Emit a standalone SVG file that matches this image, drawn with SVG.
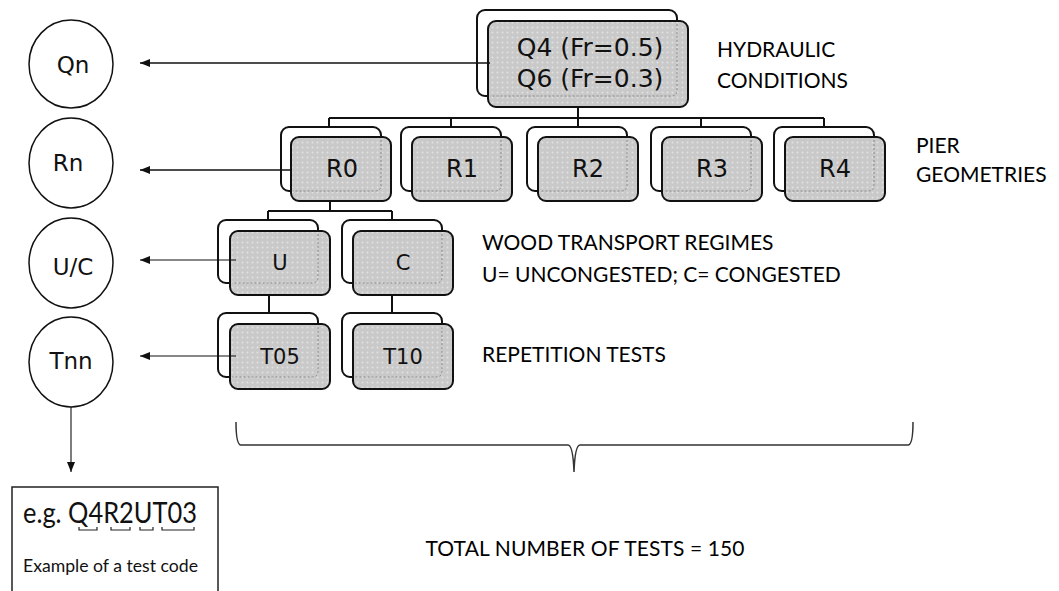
<svg xmlns="http://www.w3.org/2000/svg" width="1059" height="591" viewBox="0 0 1059 591">
<style>
.back{fill:#fff;stroke:#111;stroke-width:2}
.front{fill:url(#dots);stroke:#111;stroke-width:2}
.ghost{fill:none;stroke:#8a8a8a;stroke-width:1;stroke-dasharray:2 2}
.btxt{font-family:"DejaVu Sans",sans-serif;fill:#111;text-anchor:middle}
.lbl{font-family:Lato,"Open Sans",sans-serif;font-size:21px;fill:#000}
.circ{fill:#fff;stroke:#111;stroke-width:1.5}
.ctxt{font-family:"DejaVu Sans",sans-serif;font-size:23px;fill:#111;text-anchor:middle}
.tree{fill:none;stroke:#111;stroke-width:2}
.arr{fill:none;stroke:#111;marker-end:url(#ah)}
</style>
<defs>
<pattern id="dots" width="5" height="5" patternUnits="userSpaceOnUse">
<rect width="5" height="5" fill="#c9c9c9"/>
<circle cx="2.5" cy="2.5" r="1" fill="#e2e2e2"/>
</pattern>
<marker id="ah" markerWidth="10" markerHeight="8" refX="10" refY="4" orient="auto" markerUnits="userSpaceOnUse">
<path d="M0,0 L10,4 L0,8 Z" fill="#111"/>
</marker>
</defs>

<g id="node-Q">
<rect class="back" x="477" y="10" width="200" height="86" rx="8"/>
<rect class="front" x="488" y="21" width="200" height="86" rx="8"/>
<path class="ghost" d="M677,24 V90 Q677,96 671,96 H490"/>
<text class="btxt" x="590" y="56" font-size="25">Q4 (Fr=0.5)</text>
<text class="btxt" x="590" y="87" font-size="25">Q6 (Fr=0.3)</text>
</g>
<g id="label-hydraulic">
<text class="lbl" x="717" y="57">HYDRAULIC</text>
<text class="lbl" x="717" y="88">CONDITIONS</text>
</g>

<g id="node-R0">
<rect class="back" x="281" y="127" width="100" height="64" rx="8"/>
<rect class="front" x="291" y="137" width="100" height="64" rx="8"/>
<path class="ghost" d="M381,140 V185 Q381,191 375,191 H293"/>
<text class="btxt" x="342" y="177" font-size="24">R0</text>
</g>
<g id="node-R1">
<rect class="back" x="401" y="127" width="100" height="64" rx="8"/>
<rect class="front" x="412" y="137" width="100" height="64" rx="8"/>
<path class="ghost" d="M501,140 V185 Q501,191 495,191 H414"/>
<text class="btxt" x="462" y="177" font-size="24">R1</text>
</g>
<g id="node-R2">
<rect class="back" x="527" y="127" width="100" height="64" rx="8"/>
<rect class="front" x="538" y="137" width="100" height="64" rx="8"/>
<path class="ghost" d="M627,140 V185 Q627,191 621,191 H540"/>
<text class="btxt" x="588" y="177" font-size="24">R2</text>
</g>
<g id="node-R3">
<rect class="back" x="651" y="127" width="100" height="64" rx="8"/>
<rect class="front" x="662" y="137" width="100" height="64" rx="8"/>
<path class="ghost" d="M751,140 V185 Q751,191 745,191 H664"/>
<text class="btxt" x="712" y="177" font-size="24">R3</text>
</g>
<g id="node-R4">
<rect class="back" x="774" y="127" width="100" height="64" rx="8"/>
<rect class="front" x="785" y="137" width="100" height="64" rx="8"/>
<path class="ghost" d="M874,140 V185 Q874,191 868,191 H787"/>
<text class="btxt" x="835" y="177" font-size="24">R4</text>
</g>
<g id="label-pier">
<text class="lbl" x="916" y="153">PIER</text>
<text class="lbl" x="916" y="182">GEOMETRIES</text>
</g>

<g id="node-U">
<rect class="back" x="218" y="220" width="100" height="63" rx="8"/>
<rect class="front" x="230" y="231" width="100" height="64" rx="8"/>
<path class="ghost" d="M318,234 V277 Q318,283 312,283 H232"/>
<text class="btxt" x="280" y="270" font-size="21">U</text>
</g>
<g id="node-C">
<rect class="back" x="342" y="220" width="100" height="63" rx="8"/>
<rect class="front" x="353" y="231" width="100" height="64" rx="8"/>
<path class="ghost" d="M442,234 V277 Q442,283 436,283 H355"/>
<text class="btxt" x="403" y="270" font-size="21">C</text>
</g>
<g id="label-wood">
<text class="lbl" x="482" y="250">WOOD TRANSPORT REGIMES</text>
<text class="lbl" x="482" y="282">U= UNCONGESTED; C= CONGESTED</text>
</g>

<g id="node-T05">
<rect class="back" x="218" y="313" width="100" height="64" rx="8"/>
<rect class="front" x="230" y="324" width="100" height="65" rx="8"/>
<path class="ghost" d="M318,327 V371 Q318,377 312,377 H232"/>
<text class="btxt" x="280" y="364" font-size="21">T05</text>
</g>
<g id="node-T10">
<rect class="back" x="342" y="313" width="100" height="64" rx="8"/>
<rect class="front" x="353" y="324" width="100" height="65" rx="8"/>
<path class="ghost" d="M442,327 V371 Q442,377 436,377 H355"/>
<text class="btxt" x="403" y="364" font-size="21">T10</text>
</g>
<g id="label-rep">
<text class="lbl" x="482" y="362">REPETITION TESTS</text>
</g>

<g id="node-Qn">
<ellipse class="circ" cx="71" cy="64" rx="42" ry="44"/>
<text class="ctxt" x="73" y="73">Qn</text>
</g>
<g id="node-Rn">
<ellipse class="circ" cx="71" cy="163" rx="42" ry="45"/>
<text class="ctxt" x="68" y="171">Rn</text>
</g>
<g id="node-UC">
<ellipse class="circ" cx="71" cy="263" rx="42" ry="45"/>
<text class="ctxt" x="73" y="275">U/C</text>
</g>
<g id="node-Tnn">
<ellipse class="circ" cx="71" cy="362" rx="42" ry="45"/>
<text class="ctxt" x="71" y="369">Tnn</text>
</g>

<g id="node-example">
<rect x="12" y="487" width="206" height="120" fill="#fff" stroke="#222" stroke-width="1.5"/>
<text x="23" y="523" font-family="Lato,'Open Sans',sans-serif" font-size="28" fill="#111" textLength="174" lengthAdjust="spacingAndGlyphs">e.g. Q4R2UT03</text>
<path d="M79,527 V530 H97 V527 M111,527 V530 H130 V527 M140,527 V530 H153 V527 M162,527 V530 H194 V527" fill="none" stroke="#222" stroke-width="1.2"/>
<text x="23" y="572" font-family="Lato,'Open Sans',sans-serif" font-size="17" fill="#111" textLength="175" lengthAdjust="spacingAndGlyphs">Example of a test code</text>
</g>

<g id="label-total">
<path d="M236,422 Q236,445 241,445 H568 Q573,445 574,472 Q575,445 580,445 H908 Q913,445 913,422" fill="none" stroke="#333" stroke-width="1.5"/>
<text class="lbl" x="585" y="556" text-anchor="middle" textLength="319">TOTAL NUMBER OF TESTS = 150</text>
</g>

<g id="connectors">
<path class="tree" d="M578,107 V118 M329,118 H824 M329,118 V127 M451,118 V127 M578,118 V127 M701,118 V127 M824,118 V127"/>
<path class="tree" d="M330,201 V211 M268,211 H392 M268,211 V220 M392,211 V220"/>
<path class="tree" d="M269,295 V313 M392,295 V313"/>
<path class="arr" stroke-width="1.6" d="M490,63 H140"/>
<path class="arr" stroke-width="1.6" d="M292,170 H140"/>
<path class="arr" stroke-width="1.1" d="M236,260 H140"/>
<path class="arr" stroke-width="1.1" d="M236,356 H140"/>
<path class="arr" stroke-width="1.1" d="M71,407 V472"/>
</g>
</svg>
